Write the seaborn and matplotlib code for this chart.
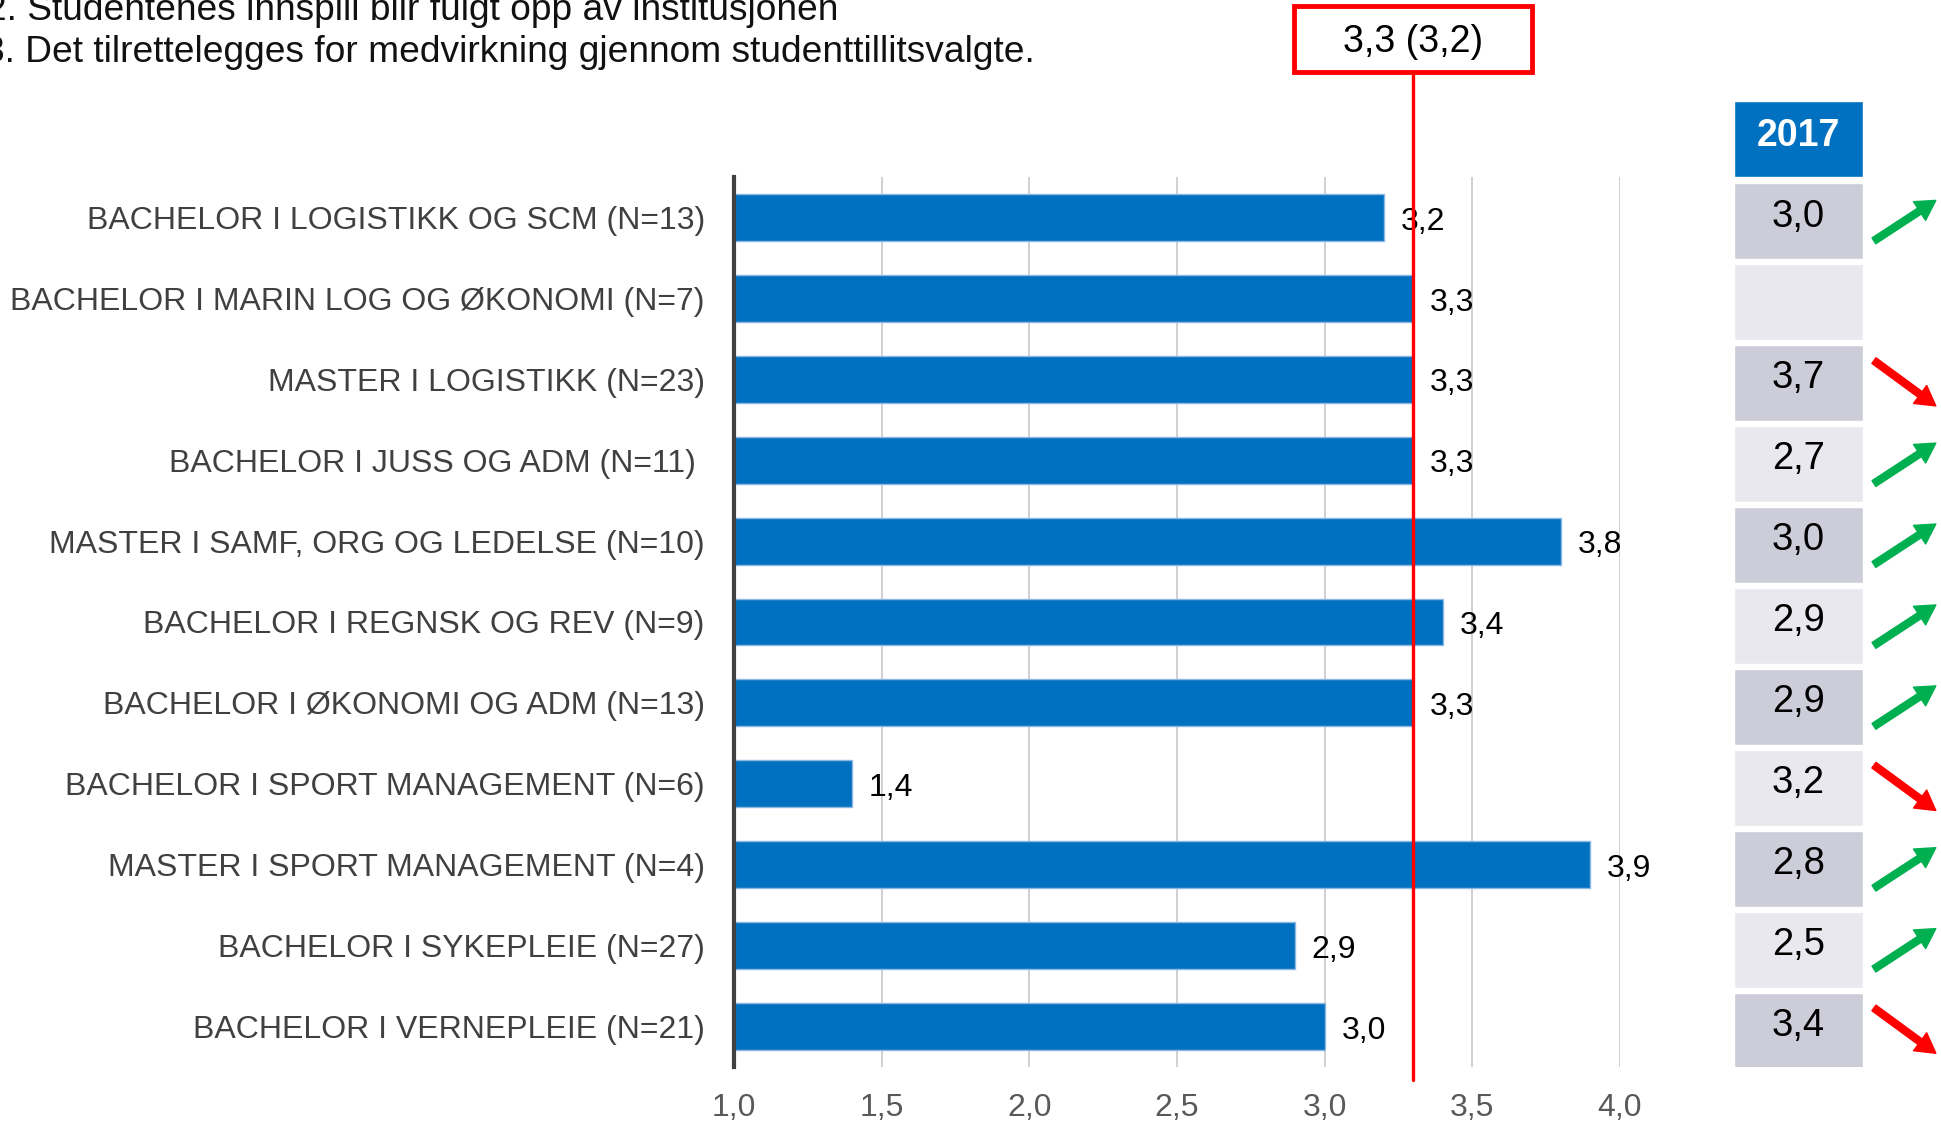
import matplotlib.pyplot as plt
import matplotlib.patches as mpatches
import seaborn as sns
import pandas as pd

# Data
programmes = [
    'BACHELOR I LOGISTIKK OG SCM (N=13)',
    'BACHELOR I MARIN LOG OG ØKONOMI (N=7)',
    'MASTER I LOGISTIKK (N=23)',
    'BACHELOR I JUSS OG ADM (N=11) ',
    'MASTER I SAMF, ORG OG LEDELSE (N=10)',
    'BACHELOR I REGNSK OG REV (N=9)',
    'BACHELOR I ØKONOMI OG ADM (N=13)',
    'BACHELOR I SPORT MANAGEMENT (N=6)',
    'MASTER I SPORT MANAGEMENT (N=4)',
    'BACHELOR I SYKEPLEIE (N=27)',
    'BACHELOR I VERNEPLEIE (N=21)',
]
score_now = [3.2, 3.3, 3.3, 3.3, 3.8, 3.4, 3.3, 1.4, 3.9, 2.9, 3.0]
score_2017 = [3.0, None, 3.7, 2.7, 3.0, 2.9, 2.9, 3.2, 2.8, 2.5, 3.4]
avg_now = 3.3
avg_prev = 3.2
x_ticks = [1.0, 1.5, 2.0, 2.5, 3.0, 3.5, 4.0]
prev_year = '2017'
header_lines = [
    '2. Studentenes innspill blir fulgt opp av institusjonen',
    '3. Det tilrettelegges for medvirkning gjennom studenttillitsvalgte.',
]


def komma(v):
    return f'{v:.1f}'.replace('.', ',')


sns.set_style('white')
plt.rcParams['font.family'] = ['Liberation Sans', 'DejaVu Sans']

df = pd.DataFrame({'program': programmes, 'score': score_now})

W, H = 1941, 1124
fig = plt.figure(figsize=(W / 100, H / 100), dpi=100)
ax = fig.add_axes([734 / W, 1 - 1067 / H, 886 / W, 890 / H])

sns.barplot(data=df, x='score', y='program', orient='h', color='#0070C0',
            saturation=1, width=0.58, edgecolor='#8DB8E2', linewidth=1, ax=ax)

ax.set_xlim(1, 4)
ax.set_xticks(x_ticks)
ax.set_xticklabels([komma(t) for t in x_ticks])
ax.set_xlabel('')
ax.set_ylabel('')
ax.grid(axis='x', color='#C8C8C8', lw=1.2)
ax.grid(axis='y', visible=False)
ax.set_axisbelow(True)
for s in ['top', 'right', 'bottom']:
    ax.spines[s].set_visible(False)
ax.spines['left'].set_color('#404040')
ax.spines['left'].set_linewidth(3)
ax.spines['left'].set_zorder(6)
ax.tick_params(axis='y', length=0, pad=21, labelsize=23, labelcolor='#404040')
ax.tick_params(axis='x', length=0, pad=19, labelsize=23, labelcolor='#595959')

# verdier ved enden av stolpene
for i, v in enumerate(score_now):
    ax.annotate(komma(v), xy=(v, i), xytext=(12, -3), textcoords='offset points',
                ha='left', va='center', fontsize=23, color='black')

# snittlinje + boks
ax.axvline(avg_now, ymin=-0.015, ymax=(1067 - 72) / 890, color='#FF0000', lw=2.4,
           clip_on=False, zorder=7)
box = mpatches.Rectangle((avg_now - 0.403, (1067 - 72) / 890), 0.806, 0.074,
                         transform=ax.get_xaxis_transform(), clip_on=False,
                         facecolor='white', edgecolor='#FF0000', lw=3.5, zorder=8)
ax.add_patch(box)
ax.text(avg_now, (1067 - 42) / 890, f'{komma(avg_now)} ({komma(avg_prev)})',
        transform=ax.get_xaxis_transform(), ha='center', va='center',
        fontsize=27, color='black', zorder=9)

# tabell for forrige år
tab = fig.add_axes([1734 / W, 1 - 1067 / H, 207 / W, (1067 - 96) / H])
tab.set_ylim(10.5, -1.5)
tab.set_xlim(0, 1)
tab.axis('off')
cell_w = 0.623
rows = list(range(len(programmes)))
cell_colors = ['#CDCDD9' if i % 2 == 0 else '#E8E8EE' for i in rows]
tab.barh([i + 0.05 for i in rows], cell_w, left=0, height=0.94, color=cell_colors)
tab.barh([-0.97], cell_w, left=0, height=0.93, color='#0070C0')
tab.text(cell_w / 2, -1.01, prev_year, ha='center', va='center', fontsize=27,
         fontweight='bold', color='white')

for i, (now, prev) in enumerate(zip(score_now, score_2017)):
    if prev is None:
        continue
    tab.text(cell_w / 2, i - 0.01, komma(prev), ha='center', va='center',
             fontsize=27.5, color='black')
    if now > prev:
        tail, head, c = (0.676, i + 0.29), (0.975, i - 0.21), '#00B050'
    else:
        tail, head, c = (0.676, i - 0.23), (0.975, i + 0.33), '#FF0000'
    tab.annotate('', xy=head, xytext=tail, annotation_clip=False,
                 arrowprops=dict(facecolor=c, edgecolor=c, width=5, headwidth=16,
                                 headlength=14, shrink=0))

# overskrift (delvis utenfor bildet)
fig.text(838 / W, 1 - 10 / H, header_lines[0], ha='right', va='center',
         fontsize=26.7, color='#111111')
fig.text(1035 / W, 1 - 52 / H, header_lines[1], ha='right', va='center',
         fontsize=26.7, color='#111111')

fig.savefig('out.png', dpi=100)
